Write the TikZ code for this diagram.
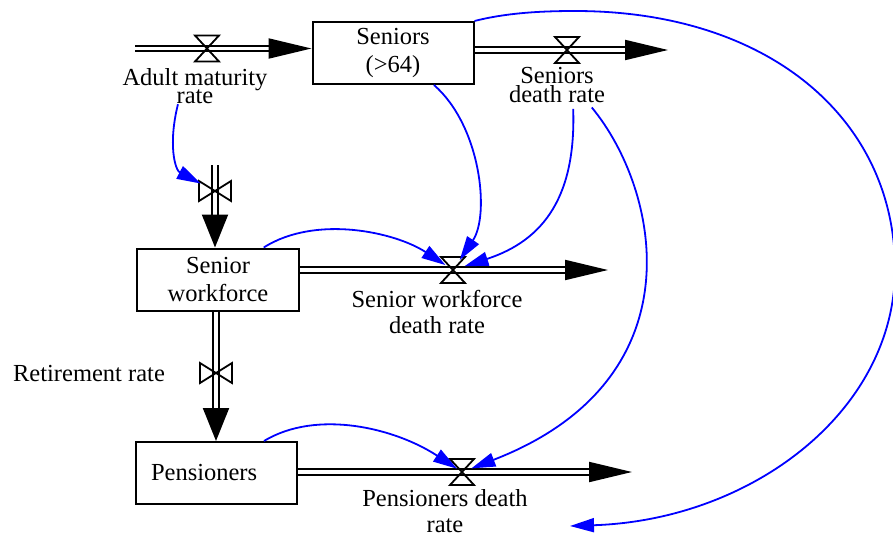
\documentclass[tikz,border=0pt]{standalone}
\usepackage{fontspec}
\setmainfont{Liberation Serif}
\usetikzlibrary{arrows.meta, positioning}

\newcommand\tightlines{\lineskiplimit -20pt\relax}

\tikzset{
  stock/.style={rectangle, draw, line width=1pt, minimum width=80.5pt,
    minimum height=31pt, align=center, inner sep=0pt,
    font=\fontsize{12.25}{14}\selectfont},
  rate/.style={align=center, inner sep=0pt, font=\fontsize{12.25}{13}\selectfont},
  tightrate/.style={rate, font={\fontsize{12.25}{9.25}\selectfont\tightlines}},
  pipe/.style={draw, double, double distance=1.75pt, line width=1pt,
    -{Triangle[length=21.5pt, width=10pt]}},
  vpipe/.style={pipe, -{Triangle[length=16.5pt, width=13pt]}},
  link/.style={draw=blue, line width=0.9pt, -{Triangle[length=12pt, width=7pt]}},
  hvalve/.pic={\draw[line width=0.9pt] (-12,-13) -- (12,-13) -- (-12,13) -- (12,13) -- cycle;},
  vvalve/.pic={\draw[line width=0.9pt] (-16,-10) -- (-16,10) -- (16,-10) -- (16,10) -- cycle;}
}

\begin{document}
\begin{tikzpicture}[x=0.5pt, y=-0.5pt]
  \useasboundingbox (0,0) rectangle (893,535);

  % stocks
  \node[stock] (sen) at (393,53) {Seniors\\(>64)};
  \node[stock, minimum width=81pt] (swf) at (218,279.5) {Senior\\workforce};
  \node[stock, text width=65.5pt, align=left, inner xsep=7.5pt] (pen) at (216.5,473) {Pensioners};

  % valves and flow ends
  \coordinate (amsrc) at (135,48.5);
  \coordinate (amv) at (207,48.5);
  \coordinate (sdv) at (567,50);
  \coordinate (sdend) at (668,50);
  \coordinate (wfsrc) at (215,165);
  \coordinate (wfv) at (215,191);
  \coordinate (swdv) at (453,270);
  \coordinate (swend) at (608,270);
  \coordinate (retv) at (216,373);
  \coordinate (pdv) at (462,472);
  \coordinate (pdend) at (632,472);
  \coordinate (bigend) at (570,526);

  % flows
  \draw[pipe] (amsrc) -- (sen.west |- amsrc);
  \draw[pipe] (sen.east |- sdv) -- (sdend);
  \draw[vpipe] (wfsrc) -- (wfsrc |- swf.north);
  \draw[pipe] (swf.east |- swdv) -- (swend);
  \draw[vpipe] (retv |- swf.south) -- (retv |- pen.north);
  \draw[pipe] (pen.east |- pdv) -- (pdend);

  \pic at (amv) {hvalve};
  \pic at (sdv) {hvalve};
  \pic at (wfv) {vvalve};
  \pic at (swdv) {hvalve};
  \pic at (retv) {vvalve};
  \pic at (pdv) {hvalve};

  % rate labels
  \node[tightrate] (amr) at (195,86) {Adult maturity\\rate};
  \node[tightrate] (sdr) at (557,85) {Seniors\\death rate};
  \node[rate] (swdr) at (437,311.5) {Senior workforce\\death rate};
  \node[rate] (ret) at (89,374) {Retirement rate};
  \node[rate] (pdr) at (445,511) {Pensioners death\\rate};

  % information links
  \draw[link, shorten >=8pt] (amr.-133) .. controls +(-10,40) and +(-40,-21) .. (wfv);
  \draw[link, shorten >=6pt] (sen.-38) .. controls +(47,41) and +(37,-55) .. (swdv);
  \draw[link, shorten <=3pt, shorten >=6pt] ([xshift=8pt]sdr.south) .. controls +(3,92) and +(92,-30) .. (swdv);
  \draw[link, shorten >=4.5pt] (swf.35) .. controls +(52,-33) and +(-58,-38) .. (swdv);
  \draw[link, shorten <=3pt, shorten >=5pt] (sdr.-30) .. controls +(72,87) and +(238,-92) .. (pdv);
  \draw[link, shorten >=3pt] (pen.34) .. controls +(53,-32) and +(-67,-44) .. (pdv);
  \draw[link] (sen.north east) .. controls (506,13) and (540,11) .. (575,11)
    .. controls (770,11) and (895,120) .. (895,269)
    .. controls (895,411) and (752,520) .. (bigend);
\end{tikzpicture}
\end{document}
